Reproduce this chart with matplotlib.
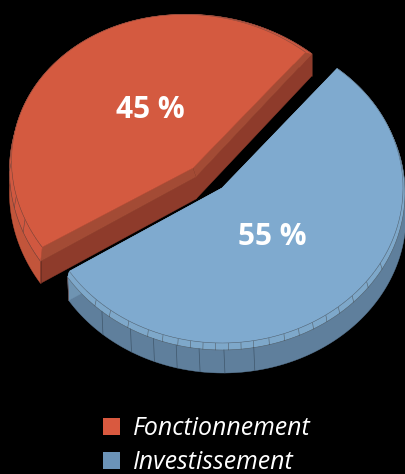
import numpy as np
import matplotlib.pyplot as plt
from matplotlib.patches import Patch

labels = ["Fonctionnement", "Investissement"]
shares = [45, 55]
colors_top = ["#d45a40", "#7faacf"]
colors_bevel = ["#d05840", "#7ea8ca"]
colors_rim = ["#c2553b", "#5f7f9c"]
colors_cut_bevel = ["#a34b35", "#7ea8ca"]
colors_cut = ["#8e3b2b", "#6f94b2"]
legend_colors = ["#d9593f", "#6b93b8"]

# each slice has its own view, the pie is not a clean ellipse in the original
slice_start = [58.5, 212.5]
slice_tilt = [8, 0]

# centre x, centre y, radius x, radius y for each slice
top_ell = [(193, 168, 182, 153), (222, 188, 181, 155)]
bevel_ell = [(196, 177, 187, 162), (222, 193, 183, 157)]
side_ell = [(196, 199, 187, 162), (223, 216, 183, 157)]
text_pos = [(150, 110), (272, 237)]

# facet lines on the rim
rim_lines = [[], [229, 240, 248, 255.5, 262.8, 270.6, 280]]
bevel_lines = [[172, 187, 200, 209],
               [226, 232, 239, 246, 251, 256, 260, 264, 268, 272, 276, 280, 285,
                290, 295, 300, 305, 310, 316, 323, 331]]


def ell(e, t, tilt_deg):
    t = np.radians(t)
    r = np.radians(tilt_deg)
    x = e[2] * np.cos(t)
    y = -e[3] * np.sin(t)
    return (e[0] + x * np.cos(r) - y * np.sin(r),
            e[1] + x * np.sin(r) + y * np.cos(r))


fig = plt.figure(figsize=(4.05, 4.74), dpi=100, facecolor="black")
ax = fig.add_axes([0, 0, 1, 1])
ax.set_xlim(0, 405)
ax.set_ylim(474, 0)
ax.axis("off")

for i in [1, 0]:
    a0 = slice_start[i]
    a1 = a0 + shares[i] * 3.6
    k = slice_tilt[i]
    t = np.linspace(a0, a1, 200)
    bx, by = ell(bevel_ell[i], t, k)
    sx, sy = ell(side_ell[i], t, k)
    tx, ty = ell(top_ell[i], t, k)
    # outer wall
    ax.fill(np.r_[bx, sx[::-1]], np.r_[by, sy[::-1]], color=colors_rim[i], lw=0.3, zorder=2)
    # cut faces
    for ang in (a0, a1):
        p = ell(bevel_ell[i], ang, k)
        q = ell(side_ell[i], ang, k)
        ax.fill([bevel_ell[i][0], p[0], q[0], side_ell[i][0]],
                [bevel_ell[i][1], p[1], q[1], side_ell[i][1]],
                color=colors_cut[i], lw=0.3, zorder=3)
        r = ell(top_ell[i], ang, k)
        ax.fill([top_ell[i][0], r[0], p[0], bevel_ell[i][0]],
                [top_ell[i][1], r[1], p[1], bevel_ell[i][1]],
                color=colors_cut_bevel[i], lw=0.3, zorder=4)
        ax.plot([p[0], q[0]], [p[1], q[1]], color="#5a2a1f", lw=0.4, zorder=5)
    # bevel band along the rim
    ax.fill(np.r_[tx, bx[::-1]], np.r_[ty, by[::-1]], color=colors_bevel[i], lw=0.3, zorder=4)
    ax.plot(bx, by, color="#3c3c3c", lw=0.4, alpha=0.6, zorder=5)
    # top face
    ax.fill(np.r_[top_ell[i][0], tx], np.r_[top_ell[i][1], ty], color=colors_top[i], lw=0.3, zorder=6)
    ax.plot(tx, ty, color="#3c3c3c", lw=0.4, alpha=0.5, zorder=6)

    for ang in rim_lines[i]:
        p = ell(bevel_ell[i], ang, k)
        q = ell(side_ell[i], ang, k)
        ax.plot([p[0], q[0]], [p[1], q[1]], color="#3f566b", lw=0.5, zorder=5)
    for ang in bevel_lines[i]:
        p = ell(top_ell[i], ang, k)
        q = ell(bevel_ell[i], ang, k)
        ax.plot([p[0], q[0]], [p[1], q[1]], color="#3f3f3f", lw=0.4, alpha=0.7, zorder=5)

for s, pos in zip(shares, text_pos):
    ax.text(pos[0], pos[1], f"{s} %", color="white", fontsize=21.5, fontweight="bold",
            family="Open Sans", ha="center", va="center", zorder=8)

handles = [Patch(color=c, lw=0) for c in legend_colors]
ax.legend(handles, labels, loc="upper left", bbox_to_anchor=(96 / 405, 1 - 408.5 / 474),
          frameon=False, labelcolor="white", handlelength=0.68, handleheight=0.68,
          handletextpad=0.5, labelspacing=0.36, borderpad=0, borderaxespad=0.3,
          prop={"family": "Open Sans", "style": "italic", "size": 17.9})

fig.savefig("out.png", dpi=100, facecolor="black")
